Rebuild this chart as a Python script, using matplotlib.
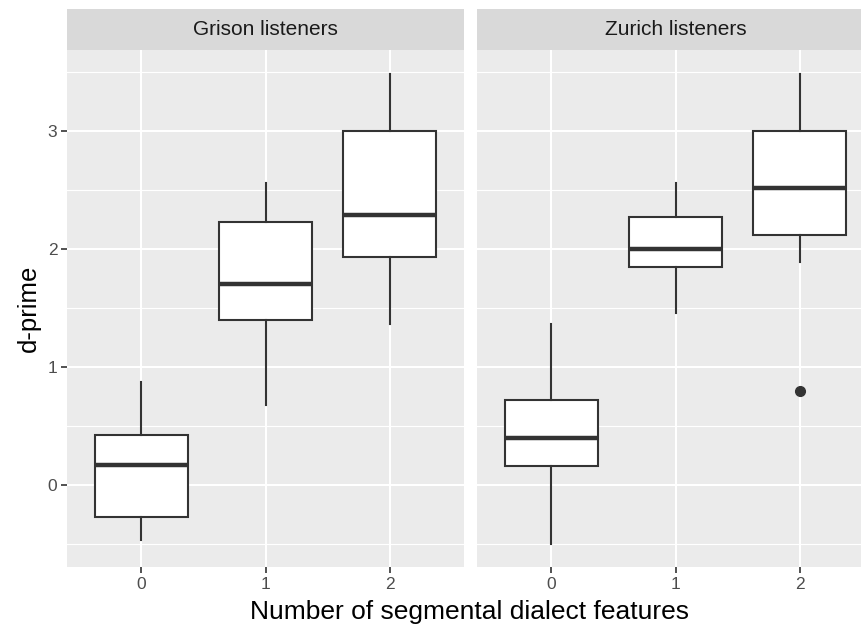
import matplotlib
matplotlib.use("Agg")
import matplotlib.pyplot as plt

plt.rcParams['font.family'] = ['Liberation Sans', 'DejaVu Sans']

categories = ['0', '1', '2']
panels = ['Grison listeners', 'Zurich listeners']

# box stats: whisker low, Q1, median, Q3, whisker high
grison_low = [-0.47, 0.68, 1.36]
grison_q1 = [-0.27, 1.40, 1.93]
grison_med = [0.17, 1.70, 2.29]
grison_q3 = [0.42, 2.23, 3.00]
grison_high = [0.87, 2.56, 3.48]
grison_out = [[], [], []]

zurich_low = [-0.50, 1.46, 1.89]
zurich_q1 = [0.16, 1.85, 2.12]
zurich_med = [0.40, 2.00, 2.52]
zurich_q3 = [0.72, 2.27, 3.00]
zurich_high = [1.36, 2.56, 3.48]
zurich_out = [[], [], [0.80]]

y_ticks = [0, 1, 2, 3]
y_minor = [-0.5, 0.5, 1.5, 2.5, 3.5]

W, H = 861, 631
fig = plt.figure(figsize=(W / 100, H / 100), dpi=100)

panel_w = 397
panel_top, panel_bot = 50, 567
strip_top = 9
lefts = [67, 477]

data = [
    (grison_low, grison_q1, grison_med, grison_q3, grison_high, grison_out),
    (zurich_low, zurich_q1, zurich_med, zurich_q3, zurich_high, zurich_out),
]

line_col = '#333333'
for i, (lo, q1, med, q3, hi, out) in enumerate(data):
    ax = fig.add_axes([lefts[i] / W, 1 - panel_bot / H, panel_w / W, (panel_bot - panel_top) / H])
    ax.set_facecolor('#EBEBEB')
    for s in ax.spines.values():
        s.set_visible(False)
    stats = []
    for k in range(len(categories)):
        stats.append(dict(whislo=lo[k], q1=q1[k], med=med[k], q3=q3[k], whishi=hi[k],
                          fliers=out[k], label=categories[k]))
    ax.bxp(stats, positions=range(len(categories)), widths=0.75, patch_artist=True,
           showcaps=False,
           boxprops=dict(facecolor='white', edgecolor=line_col, linewidth=1.5),
           whiskerprops=dict(color=line_col, linewidth=1.5),
           medianprops=dict(color=line_col, linewidth=3.2, solid_capstyle='butt'),
           flierprops=dict(marker='o', markerfacecolor=line_col, markeredgecolor=line_col,
                           markersize=7))
    ax.set_xlim(-0.6, 2.6)
    ax.set_ylim(-0.695, 3.686)
    ax.set_yticks(y_ticks)
    ax.set_yticks(y_minor, minor=True)
    ax.set_xticks(range(len(categories)))
    ax.set_xticklabels(categories)
    ax.grid(True, which='major', color='white', linewidth=1.5)
    ax.grid(True, which='minor', axis='y', color='white', linewidth=0.8)
    ax.set_axisbelow(True)
    ax.tick_params(which='minor', length=0)
    ax.tick_params(which='major', length=4, width=1.2, color='#333333',
                   labelcolor='#4D4D4D', labelsize=12.5, pad=3)
    if i == 0:
        ax.set_ylabel('d-prime', fontsize=18.5, labelpad=5)
    else:
        ax.tick_params(axis='y', left=False, labelleft=False)

    # facet strip
    sax = fig.add_axes([lefts[i] / W, 1 - panel_top / H, panel_w / W, (panel_top - strip_top) / H])
    sax.set_facecolor('#D9D9D9')
    sax.set_xticks([])
    sax.set_yticks([])
    for s in sax.spines.values():
        s.set_visible(False)
    sax.text(0.5, 0.5, panels[i], ha='center', va='center', fontsize=15,
             color='#1A1A1A', transform=sax.transAxes)

fig.text(470 / W, 1 - 612 / H, 'Number of segmental dialect features',
         ha='center', va='center', fontsize=19)

fig.savefig('out.png', dpi=100)
